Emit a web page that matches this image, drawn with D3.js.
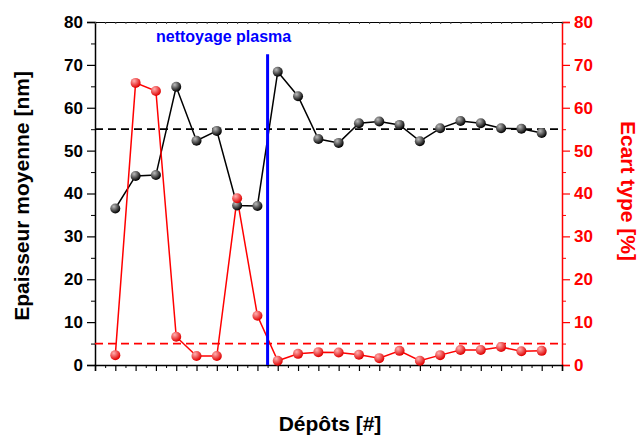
<!DOCTYPE html>
<html><head><meta charset="utf-8">
<script src="https://cdn.jsdelivr.net/npm/d3@7"></script>
<style>body{margin:0;background:#fff}svg{display:block}text{font-family:"Liberation Sans",Arial,sans-serif;font-weight:bold}</style>
</head><body>
<script>
const deposits = d3.range(1, 23);
const thickness = [36.5,44.1,44.3,64.9,52.3,54.6,37.2,37.1,68.4,62.7,52.7,51.8,56.4,56.8,56.0,52.2,55.2,56.9,56.4,55.2,55.1,54.1];
const stdDev = [2.3,65.8,63.9,6.6,2.1,2.1,38.9,11.5,1.0,2.6,3.0,2.9,2.4,1.6,3.3,1.0,2.3,3.5,3.5,4.2,3.2,3.3];
const meanThickness = 55;
const stdLimit = 5;
const cleaningAt = 8.5;
const yTicks = [0,10,20,30,40,50,60,70,80];

const W = 639, H = 439;
const m = {l:95, r:562, t:22, b:365};
const svg = d3.select("body").append("svg").attr("width", W).attr("height", H);
const x = d3.scaleLinear().domain([0,23]).range([m.l, m.r]);
const yL = d3.scaleLinear().domain([0,80]).range([m.b, m.t]);
const yR = d3.scaleLinear().domain([0,80]).range([m.b, m.t]);

const defs = svg.append("defs");
function grad(id, c0, c1) {
  const g = defs.append("radialGradient").attr("id", id).attr("cx","35%").attr("cy","30%").attr("r","70%");
  g.append("stop").attr("offset","0%").attr("stop-color", c0);
  g.append("stop").attr("offset","100%").attr("stop-color", c1);
}
grad("gBlack", "#bbbbbb", "#000000");
grad("gRed", "#ffb0b0", "#e00000");

// Left axis
const axL = svg.append("g").attr("transform", `translate(${m.l},0)`)
  .call(d3.axisLeft(yL).tickValues(yTicks).tickSize(8).tickPadding(4).tickFormat(d3.format("d")));
axL.select(".domain").attr("stroke","#000").attr("stroke-width",1.5);
axL.selectAll(".tick line").attr("stroke","#000").attr("stroke-width",1.2);
axL.selectAll("text").attr("font-size",17).attr("fill","#000");
svg.append("g").attr("transform", `translate(${m.l},0)`)
  .call(d3.axisLeft(yL).tickValues(d3.range(5,80,10)).tickSize(4).tickFormat(""))
  .call(g=>g.select(".domain").remove())
  .selectAll("line").attr("stroke","#000");

// Right axis
const axR = svg.append("g").attr("transform", `translate(${m.r},0)`)
  .call(d3.axisRight(yR).tickValues(yTicks).tickSize(8).tickPadding(4).tickFormat(d3.format("d")));
axR.select(".domain").attr("stroke","#f00").attr("stroke-width",1.5);
axR.selectAll(".tick line").attr("stroke","#f00").attr("stroke-width",1.2);
axR.selectAll("text").attr("font-size",17).attr("fill","#f00");
svg.append("g").attr("transform", `translate(${m.r},0)`)
  .call(d3.axisRight(yR).tickValues(d3.range(5,80,10)).tickSize(4).tickFormat(""))
  .call(g=>g.select(".domain").remove())
  .selectAll("line").attr("stroke","#f00");

// Bottom axis
const axB = svg.append("g").attr("transform", `translate(0,${m.b})`)
  .call(d3.axisBottom(x).tickValues(d3.range(0,24)).tickSize(6).tickFormat(""));
axB.select(".domain").attr("stroke","#000").attr("stroke-width",1.5);
axB.selectAll(".tick line").attr("stroke","#000").attr("stroke-width",1.2);
svg.append("g").attr("transform", `translate(0,${m.b})`)
  .call(d3.axisBottom(x).tickValues(d3.range(0.5,23,1)).tickSize(3).tickFormat(""))
  .call(g=>g.select(".domain").remove())
  .selectAll("line").attr("stroke","#000");

// Top axis
const axT = svg.append("g").attr("transform", `translate(0,${m.t})`)
  .call(d3.axisBottom(x).tickValues(d3.range(0,23.01,0.5)).tickSize(2).tickFormat(""));
axT.select(".domain").attr("stroke","#000").attr("stroke-width",1.2);
axT.selectAll(".tick line").attr("stroke","#444");

// Reference dashed lines
svg.append("line").attr("x1",x(0)).attr("x2",x(23)).attr("y1",yL(meanThickness)).attr("y2",yL(meanThickness))
  .attr("stroke","#000").attr("stroke-width",1.8).attr("stroke-dasharray","8,5");
svg.append("line").attr("x1",x(0)).attr("x2",x(23)).attr("y1",yR(stdLimit)).attr("y2",yR(stdLimit))
  .attr("stroke","#f00").attr("stroke-width",1.8).attr("stroke-dasharray","8,5");

// Lines
svg.append("path").datum(deposits.map((d,i)=>[d,thickness[i]]))
  .attr("fill","none").attr("stroke","#000").attr("stroke-width",1.5)
  .attr("d", d3.line().x(d=>x(d[0])).y(d=>yL(d[1])));
svg.append("path").datum(deposits.map((d,i)=>[d,stdDev[i]]))
  .attr("fill","none").attr("stroke","#f00").attr("stroke-width",1.5)
  .attr("d", d3.line().x(d=>x(d[0])).y(d=>yR(d[1])));

// Blue cleaning line
svg.append("line").attr("x1",x(cleaningAt)).attr("x2",x(cleaningAt)).attr("y1",yL(72.5)).attr("y2",m.b)
  .attr("stroke","#0000ff").attr("stroke-width",3);
svg.append("text").attr("x",x(cleaningAt)-44).attr("y",42).attr("text-anchor","middle")
  .attr("font-size",16).attr("fill","#0000ff").text("nettoyage plasma");

// Markers
svg.append("g").selectAll("circle").data(deposits.map((d,i)=>[d,thickness[i]])).join("circle")
  .attr("cx",d=>x(d[0])).attr("cy",d=>yL(d[1])).attr("r",5).attr("fill","url(#gBlack)");
svg.append("g").selectAll("circle").data(deposits.map((d,i)=>[d,stdDev[i]])).join("circle")
  .attr("cx",d=>x(d[0])).attr("cy",d=>yR(d[1])).attr("r",5).attr("fill","url(#gRed)");

// Axis titles
svg.append("text").attr("transform",`translate(29,196) rotate(-90)`).attr("text-anchor","middle")
  .attr("font-size",21).attr("fill","#000").text("Epaisseur moyenne [nm]");
svg.append("text").attr("transform",`translate(621,191) rotate(90)`).attr("text-anchor","middle")
  .attr("font-size",21).attr("fill","#f00").text("Ecart type [%]");
svg.append("text").attr("x",330).attr("y",431).attr("text-anchor","middle")
  .attr("font-size",21).attr("fill","#000").text("Dépôts [#]");
</script>
</body></html>
